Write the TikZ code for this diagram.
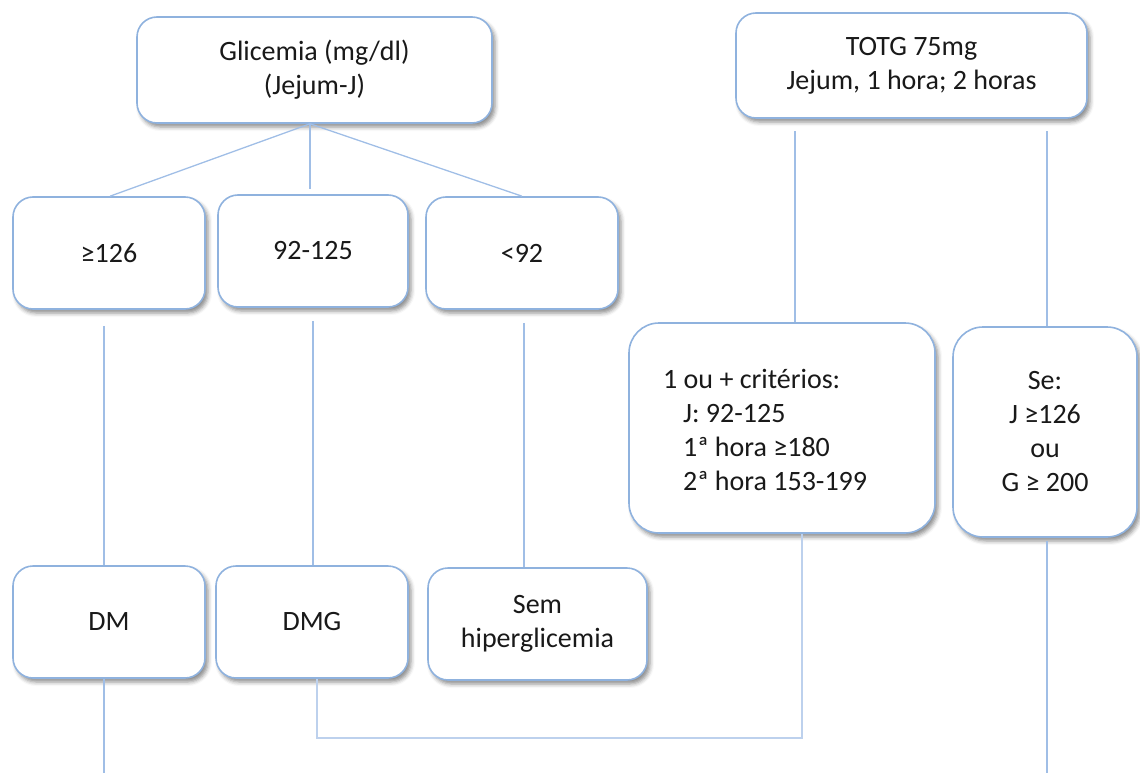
\documentclass[tikz,border=0pt]{standalone}
\usepackage{fontspec}
\setmainfont{Carlito}
\usetikzlibrary{shadows.blur,calc}
\definecolor{boxline}{RGB}{143,178,222}
\definecolor{connline}{RGB}{160,190,230}
\definecolor{txt}{RGB}{25,25,25}
\tikzset{
  box/.style={draw=boxline, line width=1.6pt, fill=white, rounded corners=20pt,
    inner sep=0pt, align=center, text=txt,
    font=\fontsize{28}{34}\selectfont,
    blur shadow={shadow xshift=3pt, shadow yshift=-4pt, shadow blur radius=4pt, shadow opacity=45}},
  bigbox/.style={box, rounded corners=30pt},
  conn/.style={draw=connline, line width=1.3pt},
  thin/.style={draw=connline!70, line width=1.2pt}
}
\begin{document}
\begin{tikzpicture}[x=1pt,y=-1pt]
\useasboundingbox (0,0) rectangle (1140,773);
% nodes
\node[box, minimum width=355pt, minimum height=106pt] (g) at (314.5,70) {Glicemia (mg/dl)\\(Jejum-J)};
\node[box, minimum width=351pt, minimum height=105pt] (t) at (911.5,65.5) {TOTG 75mg\\Jejum, 1 hora; 2 horas};
\node[box, minimum width=192pt, minimum height=112pt] (a) at (109,253) {≥126};
\node[box, minimum width=190pt, minimum height=112pt] (b) at (313,251) {92-125};
\node[box, minimum width=192pt, minimum height=112pt] (c) at (522,253) {<92};
\node[bigbox, minimum width=306pt, minimum height=210pt] (k) at (782,428) {};
\node[anchor=west, align=left, inner sep=0pt, text=txt, font=\fontsize{28}{34}\selectfont] (ktext) at (663,430)
  {1 ou + critérios:\\\hspace*{20pt}J: 92-125\\\hspace*{20pt}1ª hora ≥180\\\hspace*{20pt}2ª hora 153-199};
\node[bigbox, minimum width=184pt, minimum height=210pt] (s) at (1045,432) {Se:\\J ≥126\\ou\\G ≥ 200};
\node[box, minimum width=192pt, minimum height=112pt] (dm) at (109,622) {DM};
\node[box, minimum width=192pt, minimum height=112pt] (dmg) at (312,622) {DMG};
\node[box, minimum width=219pt, minimum height=112pt] (sem) at (537.5,624) {Sem\\hiperglicemia};
% free ends
\coordinate (jn) at (802,738);
\coordinate (dmend) at (104,773);
\coordinate (send) at (1047,773);
% connectors
\draw[conn] ([xshift=-4.5pt]g.south) -- ([xshift=1pt]a.north);
\draw[conn, shorten >=5pt] ([xshift=-4.5pt]g.south) -- ([xshift=-4.5pt]g.south |- b.north);
\draw[conn] ([xshift=-4.5pt]g.south) -- (c.north);
\draw[conn, shorten <=16pt] ([xshift=-5pt]a.south) -- ([xshift=-5pt]a.south |- dm.north);
\draw[conn, shorten <=13pt] (b.south) -- (b.south |- dmg.north);
\draw[conn, shorten <=13pt] ([xshift=2pt]c.south) -- ([xshift=2pt]c.south |- sem.north);
\draw[conn, shorten >=12pt] ([xshift=13pt]k.north) -- ([xshift=13pt]k.north |- t.south);
\draw[conn, shorten >=12pt] ([xshift=2pt]s.north) -- ([xshift=2pt]s.north |- t.south);
\draw[thin] ([xshift=5pt]dmg.south) |- (jn) -- ([xshift=20pt]k.south);
\draw[conn] ([xshift=-5pt]dm.south) -- (dmend);
\draw[conn, shorten <=3pt] ([xshift=2pt]s.south) -- (send);
\end{tikzpicture}
\end{document}
